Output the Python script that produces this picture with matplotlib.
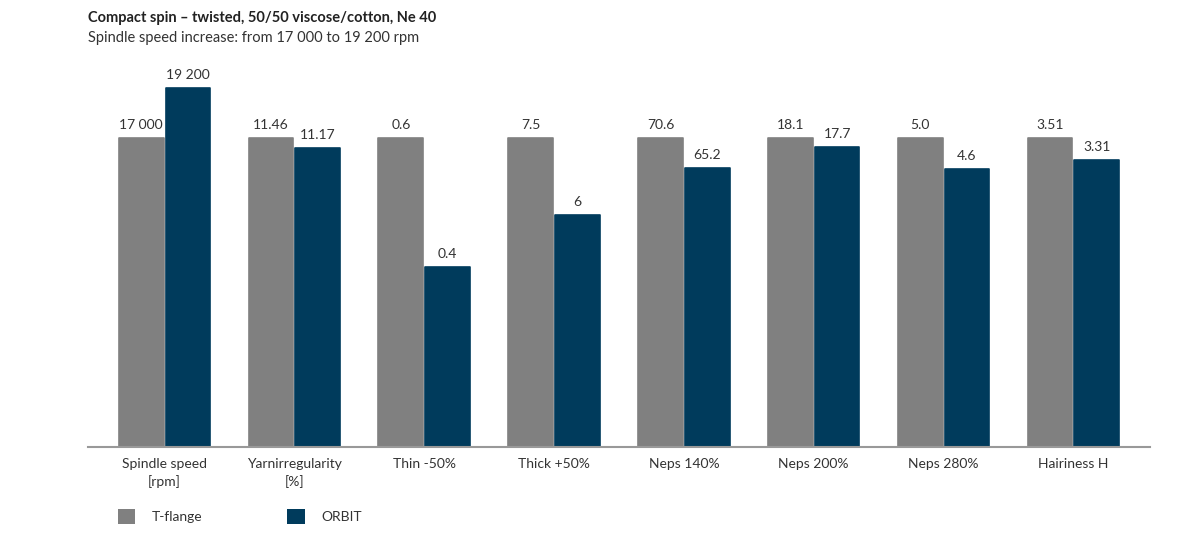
import matplotlib.pyplot as plt
import numpy as np
from matplotlib.patches import Patch

plt.rcParams['font.family'] = ['Lato', 'DejaVu Sans']

categories = ["Spindle speed\n[rpm]", "Yarnirregularity\n[%]", "Thin -50%", "Thick +50%",
              "Neps 140%", "Neps 200%", "Neps 280%", "Hairiness H"]
tflange_labels = ["17 000", "11.46", "0.6", "7.5", "70.6", "18.1", "5.0", "3.51"]
orbit_labels = ["19 200", "11.17", "0.4", "6", "65.2", "17.7", "4.6", "3.31"]
# bar heights relative to T-flange (=100)
tflange_height = [100, 100, 100, 100, 100, 100, 100, 100]
orbit_height = [116.2, 96.8, 58.4, 75.0, 90.4, 97.2, 89.9, 92.9]

grey = "#808080"
blue = "#003b5c"
txt = "#333333"

fig = plt.figure(figsize=(11.78, 5.4), dpi=100)
ax = fig.add_axes([0.0747, 0.172, 0.9015, 0.68])

x = np.arange(len(categories))
w = 0.345
b1 = ax.bar(x - 0.18, tflange_height, w, color=grey, edgecolor=grey,
            linewidth=1.2, joinstyle="round", label="T-flange")
b2 = ax.bar(x + 0.18, orbit_height, w, color=blue, edgecolor=blue,
            linewidth=1.2, joinstyle="round", label="ORBIT")

for bars, labs in ((b1, tflange_labels), (b2, orbit_labels)):
    for r, lab in zip(bars, labs):
        ax.annotate(lab, (r.get_x() + r.get_width() / 2, r.get_height()),
                    xytext=(0, 5), textcoords="offset points",
                    ha="center", va="bottom", fontsize=10, color=txt)

ax.set_xlim(-0.59, 7.59)
ax.set_ylim(0, 118.8)
ax.set_xticks(x)
ax.set_xticklabels(categories, fontsize=10, color=txt, linespacing=1.4)
ax.tick_params(axis="x", length=0, pad=8)
ax.set_yticks([])
for s in ("top", "right", "left"):
    ax.spines[s].set_visible(False)
ax.spines["bottom"].set_color("#999999")
ax.spines["bottom"].set_linewidth(1.5)
ax.spines["bottom"].set_zorder(3)

fig.text(0.0747, 0.959, "Compact spin \u2013 twisted, 50/50 viscose/cotton, Ne 40",
         fontsize=10.5, fontweight="bold", color="#222222", va="baseline")
fig.text(0.0747, 0.922, "Spindle speed increase: from 17 000 to 19 200 rpm",
         fontsize=10.5, color="#333333", va="baseline")

handles = [Patch(facecolor=grey, label="T-flange"), Patch(facecolor=blue, label="ORBIT")]
fig.legend(handles=handles, loc="center left", bbox_to_anchor=(0.100, 0.044),
           ncol=2, frameon=False, fontsize=10, handlelength=1.25, handleheight=1.25,
           handletextpad=1.2, columnspacing=6.1, labelcolor=txt, borderaxespad=0,
           borderpad=0)

fig.savefig("out.png", dpi=100)
